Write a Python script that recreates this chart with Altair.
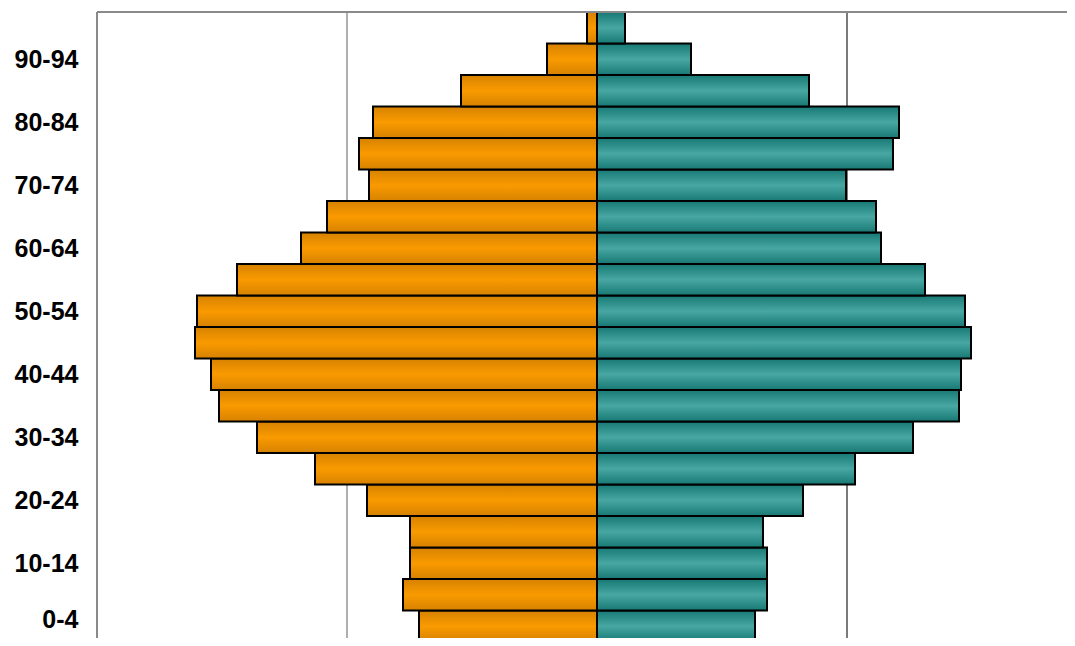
import altair as alt
import pandas as pd

ages = ["0-4", "5-9", "10-14", "15-19", "20-24", "25-29", "30-34", "35-39",
        "40-44", "45-49", "50-54", "55-59", "60-64", "65-69", "70-74",
        "75-79", "80-84", "85-89", "90-94", "95+"]
left_vals = [712, 776, 748, 748, 920, 1128, 1360, 1512, 1544, 1608,
             1600, 1440, 1184, 1080, 912, 952, 896, 544, 200, 40]
right_vals = [632, 680, 680, 664, 824, 1032, 1264, 1448, 1456, 1496,
              1472, 1312, 1136, 1116, 996, 1184, 1208, 848, 376, 112]
label_idx = [0, 2, 4, 6, 8, 10, 12, 14, 16, 18]
grid_vals = [-1000, 1000]
grid_colors = ["#7a7a7a", "#222222"]

idx = list(range(len(ages)))
df_left = pd.DataFrame({"i0": [i - 0.5 for i in idx], "i1": [i + 0.5 for i in idx],
                        "x": [-v for v in left_vals], "x2": [0] * len(ages)})
df_right = pd.DataFrame({"i0": [i - 0.5 for i in idx], "i1": [i + 0.5 for i in idx],
                         "x": right_vals, "x2": [0] * len(ages)})
df_grid = pd.DataFrame({"v": grid_vals, "c": grid_colors})

XMIN, XMAX = -2000, 1880
YMIN, YMAX = -0.373, 19.5
xscale = alt.Scale(domain=[XMIN, XMAX], nice=False, zero=False)
yscale = alt.Scale(domain=[YMIN, YMAX], nice=False, zero=False)

orange = alt.Gradient(
    gradient="linear", x1=0, x2=0, y1=0, y2=1,
    stops=[alt.GradientStop(color="#d68200", offset=0),
           alt.GradientStop(color="#fa9a00", offset=0.5),
           alt.GradientStop(color="#d68200", offset=1)])
teal = alt.Gradient(
    gradient="linear", x1=0, x2=0, y1=0, y2=1,
    stops=[alt.GradientStop(color="#177874", offset=0),
           alt.GradientStop(color="#48a7a3", offset=0.5),
           alt.GradientStop(color="#177874", offset=1)])

label_array = "[" + ",".join("'" + a + "'" for a in ages) + "]"
yaxis = alt.Axis(title=None, values=label_idx, ticks=False, domain=False,
                 labelExpr=label_array + "[datum.value]",
                 labelFont="Liberation Sans", labelFontSize=25,
                 labelFontWeight="bold", labelColor="#000000", labelPadding=19,
                 labelOffset={"condition": {"test": "datum.value == 0", "value": -7},
                              "value": 0},
                 grid=False)

grid = alt.Chart(df_grid).mark_rule(strokeWidth=1.2).encode(
    x=alt.X("v:Q", scale=xscale, axis=None),
    color=alt.Color("c:N", scale=None),
)

bars_left = alt.Chart(df_left).mark_bar(
    color=orange, stroke="#000000", strokeWidth=2, clip=True
).encode(
    y=alt.Y("i0:Q", scale=yscale, axis=yaxis),
    y2="i1:Q",
    x=alt.X("x:Q", scale=xscale, axis=None),
    x2="x2:Q",
)

bars_right = alt.Chart(df_right).mark_bar(
    color=teal, stroke="#000000", strokeWidth=2, clip=True
).encode(
    y=alt.Y("i0:Q", scale=yscale, axis=yaxis),
    y2="i1:Q",
    x=alt.X("x:Q", scale=xscale, axis=None),
    x2="x2:Q",
)

center = alt.Chart(pd.DataFrame({"v": [0]})).mark_rule(
    color="#000000", strokeWidth=2
).encode(x=alt.X("v:Q", scale=xscale, axis=None))

border_top = alt.Chart(pd.DataFrame({"y": [YMAX], "a": [XMIN], "b": [XMAX]})).mark_rule(
    color="#8a8a8a", strokeWidth=2
).encode(
    y=alt.Y("y:Q", scale=yscale, axis=yaxis),
    x=alt.X("a:Q", scale=xscale, axis=None),
    x2="b:Q",
)
border_left = alt.Chart(pd.DataFrame({"x": [XMIN]})).mark_rule(
    color="#8a8a8a", strokeWidth=2
).encode(x=alt.X("x:Q", scale=xscale, axis=None))

chart = alt.layer(grid, bars_left, bars_right, center, border_top, border_left).properties(
    width=970, height=626,
    autosize=alt.AutoSizeParams(type="none"),
    padding={"left": 89, "top": 4, "right": 0, "bottom": 0},
).configure_view(strokeWidth=0).configure(background="white")

chart.save("out.html", embed_options={"renderer": "svg", "actions": False})
